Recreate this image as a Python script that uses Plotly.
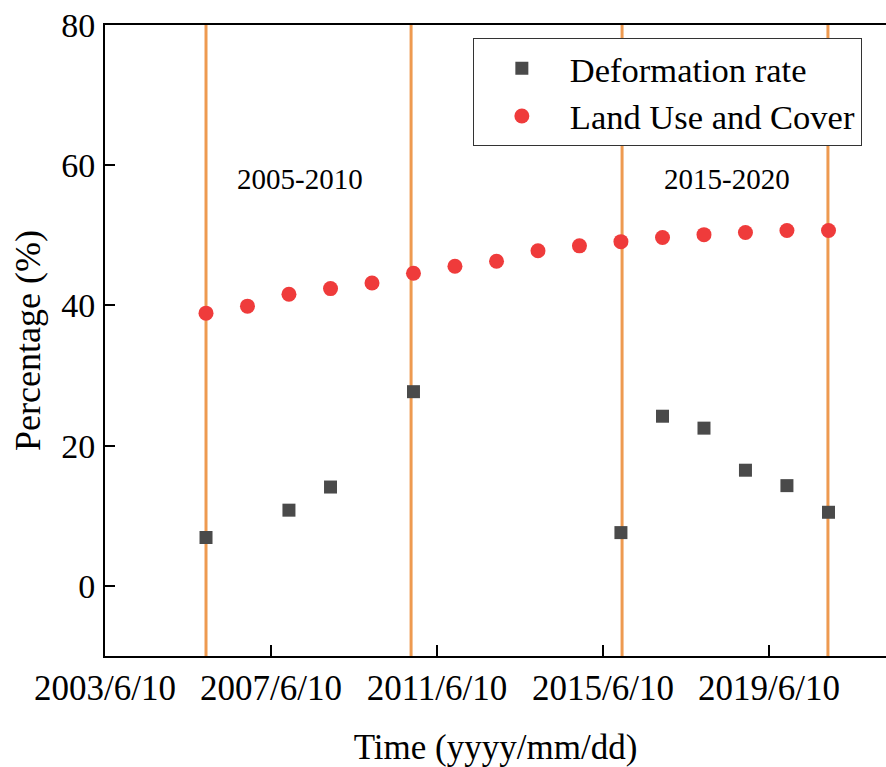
import plotly.graph_objects as go

# ---- data ----
dates = [f"{y}-11-15" for y in range(2005, 2021)]
land_use = [38.9, 39.9, 41.6, 42.4, 43.2, 44.6, 45.6, 46.3, 47.8, 48.5, 49.1, 49.7, 50.1, 50.4, 50.7, 50.7]
deformation = [6.9, None, 10.8, 14.1, None, 27.7, None, None, None, None, 7.6, 24.2, 22.5, 16.5, 14.3, 10.5]

period_lines = ["2005-11-15", "2010-10-25", "2015-11-25", "2020-11-10"]
period_labels = ["2005-2010", "2015-2020"]
period_label_x = ["2008-02-19", "2018-06-05"]

x_tickvals = ["2003-06-10", "2007-06-10", "2011-06-10", "2015-06-10", "2019-06-10"]
x_ticktext = ["2003/6/10", "2007/6/10", "2011/6/10", "2015/6/10", "2019/6/10"]
y_tickvals = [0, 20, 40, 60, 80]

FONT = "Liberation Serif"

fig = go.Figure()
fig.add_trace(go.Scatter(
    x=dates, y=deformation, mode="markers", name="Deformation rate",
    marker=dict(symbol="square", size=13, color="#4a4a4a"),
))
fig.add_trace(go.Scatter(
    x=dates, y=land_use, mode="markers", name="Land Use and Cover",
    marker=dict(symbol="circle", size=15, color="#ef3b3b"),
))

for d in period_lines:
    fig.add_shape(type="line", xref="x", yref="y", x0=d, x1=d, y0=-10, y1=80,
                  line=dict(color="#ee9a50", width=3), layer="below")

for lab, xd in zip(period_labels, period_label_x):
    fig.add_annotation(x=xd, y=58, text=lab, showarrow=False,
                       font=dict(family=FONT, size=29, color="black"))

fig.update_layout(
    width=886, height=767,
    margin=dict(l=105, r=0, t=25, b=111),
    plot_bgcolor="white", paper_bgcolor="white",
    font=dict(family=FONT, color="black"),
    showlegend=True,
    legend=dict(
        x=0.471, y=0.979, xanchor="left", yanchor="top",
        bgcolor="white", bordercolor="#333333", borderwidth=1,
        font=dict(family=FONT, size=34.5, color="black"),
        itemwidth=86, tracegroupgap=0,
    ),
    xaxis=dict(
        type="date", range=["2003-06-10", "2022-04-05"],
        tickvals=x_tickvals, ticktext=x_ticktext,
        ticks="inside", ticklen=11, tickwidth=2, tickcolor="black",
        showline=True, linecolor="black", linewidth=2, mirror=True,
        showgrid=False, zeroline=False,
        tickfont=dict(family=FONT, size=35, color="black"),
        title=dict(text="Time (yyyy/mm/dd)", font=dict(family=FONT, size=35, color="black"), standoff=27),
    ),
    yaxis=dict(
        range=[-10, 80], tickvals=y_tickvals,
        ticks="inside", ticklen=10, tickwidth=2, tickcolor="black",
        showline=True, linecolor="black", linewidth=2, mirror=False,
        showgrid=False, zeroline=False,
        tickfont=dict(family=FONT, size=34, color="black"),
        ticklabelstandoff=1,
        title=dict(text="Percentage (%)", font=dict(family=FONT, size=36, color="black"), standoff=10),
    ),
)

fig.write_html("out.html")
